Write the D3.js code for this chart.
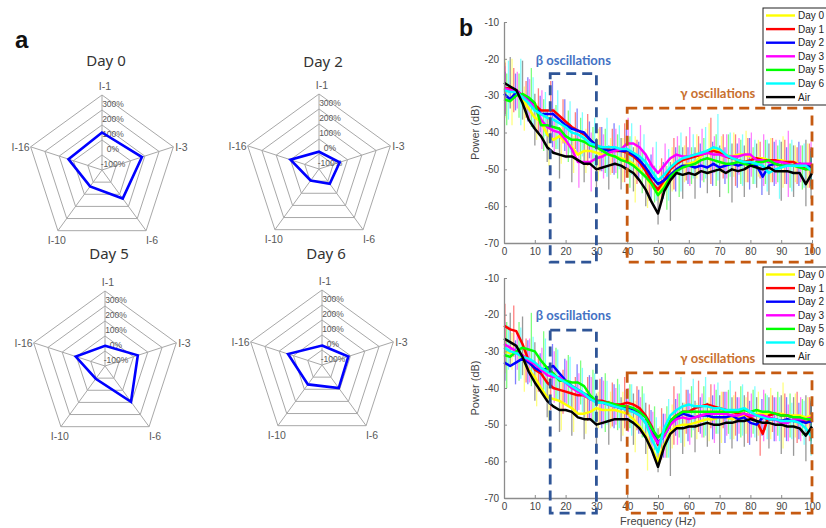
<!DOCTYPE html>
<html><head><meta charset="utf-8">
<script src="https://cdn.jsdelivr.net/npm/d3@7"></script>
<style>body{margin:0;background:#fff}svg{display:block}</style>
</head><body>
<svg id="c" width="826" height="528"></svg>
<script>
// ---------- Panel a: radar data ----------
const radarAxes = ["I-1","I-3","I-6","I-10","I-16"];
const radarTicks = [-100, 0, 100, 200, 300];
const radarTickLabels = ["-100%","0%","100%","200%","300%"];
const radarDays = ["Day 0","Day 2","Day 5","Day 6"];
const day0 = [50, 80, 35, -65, 35];
const day2 = [-85, -55, -78, -105, 0];
const day5 = [-65, 30, 95, -95, 5];
const day6 = [-70, -15, -10, -40, 38];

// ---------- Panel b: spectra data (2 Hz grid) ----------
const freqs = [0,2,4,6,8,10,12,14,16,18,20,22,24,26,28,30,32,34,36,38,40,42,44,46,48,50,52,54,56,58,60,62,64,66,68,70,72,74,76,78,80,82,84,86,88,90,92,94,96,98,100];
const errFreqs = [0,4,8,12,16,20,24,28,32,36,40,44,48,52,56,60,64,68,72,76,80,84,88,92,96,100];
const seriesNames = ["Day 0","Day 1","Day 2","Day 3","Day 5","Day 6","Air"];
const freqTicks = [0,10,20,30,40,50,60,70,80,90,100];
const powerTicks = [-10,-20,-30,-40,-50,-60,-70];

const topDay0 = [-28,-28.5,-29,-31,-33.5,-36,-37,-40.5,-42,-41,
  -42.5,-44,-46,-45,-45,-45.5,-46,-46,-46.5,-47,
  -47.5,-48.5,-50,-52,-54.5,-56.5,-54,-51.5,-50,-49,
  -48.5,-48,-46.5,-45,-44.5,-45,-46,-46.5,-46,-46,
  -46.5,-47,-47,-47.5,-47.5,-47.5,-48,-48,-48.5,-49,-49];
const topDay1 = [-28,-28,-28.5,-30,-31,-32.5,-34,-34,-34,-35.5,
  -37,-38.5,-39.5,-40.5,-42,-43.5,-44.5,-44.5,-45,-45,
  -45.5,-46.5,-48,-50.5,-53.5,-55.5,-53,-50,-48.5,-47.5,
  -47,-46.5,-46,-45.5,-45,-45.5,-46.5,-47,-47.5,-48,
  -47.5,-47,-47.5,-47.5,-47.5,-48,-48,-48,-49,-50,-49];
const topDay2 = [-29.5,-31,-29,-30,-31,-33,-35,-35,-35,-36.5,
  -38,-39,-39.5,-40,-42,-43.5,-44.5,-45,-44.5,-45,
  -45,-46,-47.5,-49.5,-52,-54,-53,-51.5,-50,-49,
  -49,-49.5,-49,-49.5,-48.5,-49.5,-49,-48.5,-49,-48.5,
  -48.5,-49,-52,-49,-48.5,-49,-49,-49,-48.5,-49,-49.5];
const topDay3 = [-28,-28.5,-28.5,-30,-31.5,-33,-36.5,-38.5,-39.5,-40,
  -42,-44.5,-48,-48,-48,-47,-46.5,-45.5,-45,-44.5,
  -43,-43,-44,-46,-49,-51,-49,-47,-46,-46.5,
  -46.5,-46,-46,-45.5,-46,-46,-46.5,-46.5,-46.5,-46,
  -46,-47.5,-47.5,-48,-48,-48,-48.5,-49,-48.5,-48.5,-48.5];
const topDay5 = [-31,-31.5,-30,-29.5,-30.5,-32,-38,-38,-38.5,-39,
  -41,-42,-42,-42.5,-43.5,-44,-45,-46,-46.5,-47.5,
  -48,-49,-50.5,-52,-54,-57,-55,-52,-50.5,-49.5,
  -49,-48.5,-47.5,-47,-47.5,-48,-48.5,-48.5,-48,-48.5,
  -49,-48,-48,-47.5,-48.5,-49,-49,-49,-49.5,-50,-50];
const topDay6 = [-28.5,-29,-29,-30.5,-32,-34,-35,-36,-36.5,-37.5,
  -38.5,-40,-40.5,-41.5,-43,-43.5,-44,-44,-44,-44.5,
  -44.5,-45.5,-46.5,-48,-50.5,-53,-51.5,-49.5,-48,-47,
  -46.5,-46,-45.5,-45,-44,-44.5,-46,-47,-47.5,-48,
  -48,-48.5,-49,-51,-50,-49.5,-49,-49,-49,-49,-50.5];
const topAir = [-26.5,-27.5,-28.5,-32,-36.5,-39,-41,-44,-45.5,-46,
  -46.5,-46.5,-47.5,-48.5,-48.5,-50,-49.5,-49,-48.5,-49,
  -50,-51,-53,-55.5,-59,-62,-56,-53,-51,-51.5,
  -51,-51.5,-50.5,-51,-50.5,-50,-51,-50,-50.5,-50,
  -49,-49.5,-50,-49.5,-50.5,-50.5,-50.5,-51,-51,-54,-51];

const botDay0 = [-30,-30.5,-30,-32,-35,-37,-40,-42.5,-43,-43.5,
  -44.5,-45.5,-47,-47,-46.5,-45.5,-46,-46,-46,-46.5,
  -47,-48.5,-50.5,-53,-56.5,-60,-55.5,-52,-50.5,-50,
  -50,-49.5,-49,-48.5,-48.5,-48,-48,-48.5,-48,-47.5,
  -47.5,-47,-47,-47,-47,-47,-47.5,-47.5,-47.5,-48,-47.5];
const botDay1 = [-23,-24,-24.5,-28,-32.5,-35,-36,-38.5,-40,-40.5,
  -41,-41.5,-42,-42,-43,-43.5,-43.5,-44,-44.5,-44.5,
  -44,-44.5,-45.5,-47.5,-50.5,-55.5,-52.5,-49,-47.5,-46.5,
  -46.5,-45.5,-45,-44.5,-45,-45.5,-46,-46.5,-47,-47,
  -48,-49,-52.5,-47.5,-47,-47.5,-47.5,-48,-48,-49.5,-48.5];
const botDay2 = [-33,-34,-33,-32,-33,-34.5,-35.5,-34.5,-34,-36,
  -38,-39.5,-40.5,-41.5,-42.5,-43.5,-44,-44.5,-45,-45.5,
  -45.5,-46,-46.5,-48,-51,-55,-53,-50,-48,-47,
  -47.5,-48,-47.5,-47.5,-48,-48,-48,-47.5,-48.5,-48,
  -49.5,-50,-48,-48.5,-48.5,-49,-48.5,-49,-49,-49.5,-49];
const botDay3 = [-28,-29,-30,-31,-32.5,-33.5,-35,-36.5,-37,-37,
  -38.5,-40,-41,-42,-43,-43.5,-44,-44.5,-45,-45.5,
  -46,-46.5,-47.5,-49.5,-52.5,-55,-53,-50,-48.5,-48,
  -48.5,-48,-47.5,-47,-47,-47,-47,-47.5,-47.5,-47,
  -47.5,-47.5,-47.5,-48,-48.5,-49.5,-49.5,-48.5,-48.5,-48.5,-48];
const botDay5 = [-31,-31.5,-30,-29,-29.5,-30,-32.5,-34.5,-36,-38,
  -38,-38.5,-38.5,-39.5,-42,-43.5,-44,-44,-44.5,-45,
  -45,-45.5,-46.5,-48,-51,-53.5,-52,-49,-47.5,-46.5,
  -46.5,-46.5,-46.5,-46.5,-46.5,-46.5,-46.5,-46.5,-46.5,-46,
  -46.5,-46,-46.5,-46.5,-47,-47.5,-47.5,-48,-48,-48.5,-48.5];
const botDay6 = [-29,-30,-30.5,-31.5,-32,-33,-34.5,-35.5,-36.5,-37.5,
  -38.5,-39.5,-40.5,-41.5,-43,-44,-44,-44.5,-45,-45.5,
  -46,-46.5,-47.5,-49.5,-54,-57.5,-51,-47.5,-46,-45,
  -44.5,-45,-45,-45,-45.5,-45.5,-46,-46,-46,-45.5,
  -46.5,-47.5,-48,-48.5,-48.5,-49,-49,-49,-49.5,-51,-53.5];
const botAir = [-26.5,-27.5,-28.5,-31.5,-35.5,-38.5,-41,-43.5,-45,-46,
  -46,-46.5,-48,-48.5,-48.5,-50,-49.5,-49,-48.5,-48.5,
  -48.5,-49.5,-51,-53.5,-57,-61.5,-56,-52.5,-51,-51,
  -50.5,-50.5,-50,-49.5,-50,-50,-49.5,-49.5,-49,-49,
  -48.5,-49,-49.5,-49.5,-50,-50,-50.5,-50.5,-51,-53,-50.5];

// error-bar half widths (dB) at errFreqs
const topErrDay0 = [8,9,6,5,7,6,5,6,7,5,6,9,6,5,6,5,6,7,5,6,7,5,6,7,5,6];
const topErrDay1 = [7,6,5,6,8,6,5,7,6,6,8,6,5,6,7,6,5,9,6,7,6,5,6,6,5,6];
const topErrDay2 = [6,5,6,5,9,7,6,5,6,7,6,5,6,5,6,5,6,6,5,6,7,5,6,5,6,5];
const topErrDay3 = [6,5,6,8,6,5,7,8,6,6,7,6,5,6,5,8,7,5,6,5,6,7,6,9,5,6];
const topErrDay5 = [7,6,8,7,6,7,6,5,6,6,7,6,5,6,7,5,6,7,8,6,5,6,5,6,6,5];
const topErrDay6 = [8,9,7,6,8,7,6,7,8,6,7,6,8,7,8,6,7,9,6,7,6,7,8,7,6,5];
const topErrAir = [7,8,7,7,7,7,6,7,6,7,6,7,6,8,7,7,6,7,8,7,6,7,8,7,9,7];
const botErrDay0 = [6,5,6,5,6,7,5,6,5,5,6,7,6,5,6,6,5,6,7,6,5,6,7,9,6,5];
const botErrDay1 = [6,7,6,5,6,6,5,6,6,6,7,6,6,7,8,6,7,6,5,6,7,6,5,6,7,6];
const botErrDay2 = [5,6,6,5,6,6,7,6,7,6,5,6,5,6,5,7,5,6,7,6,6,5,6,6,5,5];
const botErrDay3 = [6,5,6,6,7,6,5,6,6,5,6,5,6,6,7,7,6,8,6,5,6,7,6,5,6,5];
const botErrDay5 = [9,8,10,8,7,7,6,7,8,7,6,7,6,7,6,7,7,6,6,7,6,5,6,6,5,6];
const botErrDay6 = [6,7,6,8,7,7,6,7,6,6,7,6,6,8,9,7,8,7,8,7,7,6,6,5,6,5];
const botErrAir = [7,8,8,7,7,7,6,7,6,6,7,7,6,8,7,7,6,8,7,7,6,7,8,8,9,7];

const seriesColors = ["#ffff00","#ff0000","#0000ff","#ff00ff","#00ff00","#00ffff","#000000"];

// ---------- drawing ----------
const svg = d3.select("#c");

// panel letters
svg.append("text").attr("x",15).attr("y",48).text("a")
  .style("font-family","Liberation Sans, Arial, sans-serif").style("font-size","24px").style("font-weight","bold").attr("fill","#111");
svg.append("text").attr("x",459).attr("y",36).text("b")
  .style("font-family","Liberation Sans, Arial, sans-serif").style("font-size","23px").style("font-weight","bold").attr("fill","#111");

// radar charts
const radarData = [day0, day2, day5, day6];
const radarLayout = [
  {cx:102, cy:170, ty:66},
  {cx:319, cy:169, ty:67},
  {cx:105, cy:366, ty:259},
  {cx:322, cy:365, ty:259}
];
const R = 75;
const rScale = d3.scaleLinear().domain([-200, 300]).range([0, R]);
const ang = i => i * 2 * Math.PI / radarAxes.length;
function pt(cx, cy, i, r){ return [cx + r*Math.sin(ang(i)), cy - r*Math.cos(ang(i))]; }

radarData.forEach((vals, k) => {
  const {cx, cy, ty} = radarLayout[k];
  const g = svg.append("g");
  const gridLine = d3.line().curve(d3.curveLinearClosed);
  radarTicks.forEach(t => {
    g.append("path").attr("d", gridLine(radarAxes.map((a,i)=>pt(cx,cy,i,rScale(t)))))
      .attr("fill","none").attr("stroke","#a8a8a8").attr("stroke-width",1);
  });
  radarAxes.forEach((a,i) => {
    const p = pt(cx,cy,i,R);
    g.append("line").attr("x1",cx).attr("y1",cy).attr("x2",p[0]).attr("y2",p[1])
      .attr("stroke","#a8a8a8").attr("stroke-width",1);
  });
  radarTicks.forEach((t,j) => {
    g.append("text").attr("x", cx+11).attr("y", cy - rScale(t) + 9).attr("dy","0.35em")
      .attr("text-anchor","middle").text(radarTickLabels[j])
      .style("font-family","Liberation Sans, Arial, sans-serif").style("font-size","8.5px").attr("fill","#595959");
  });
  const lab = [
    {dx:3, dy:-5, anchor:"middle"},
    {dx:2, dy:4, anchor:"start"},
    {dx:6, dy:13, anchor:"middle"},
    {dx:-1, dy:13, anchor:"middle"},
    {dx:-1, dy:4, anchor:"end"}
  ];
  radarAxes.forEach((a,i) => {
    const p = pt(cx,cy,i,R);
    g.append("text").attr("x",p[0]+lab[i].dx).attr("y",p[1]+lab[i].dy)
      .attr("text-anchor",lab[i].anchor).text(a)
      .style("font-family","Liberation Sans, Arial, sans-serif").style("font-size","10.5px").attr("fill","#595959");
  });
  g.append("path").attr("d", gridLine(vals.map((v,i)=>pt(cx,cy,i,rScale(v)))))
    .attr("fill","none").attr("stroke","#0000ff").attr("stroke-width",2.6).attr("stroke-linejoin","miter");
  g.append("text").attr("x", cx+4).attr("y", ty).attr("text-anchor","middle").text(radarDays[k])
    .style("font-family","Noto Sans, sans-serif").style("font-size","15px").attr("fill","#333");
});

// spectra panels
const x = d3.scaleLinear().domain([0,100]).range([504,812]);
const panels = [
  {y: d3.scaleLinear().domain([-70,-10]).range([243,22]),
   series:[topDay0,topDay1,topDay2,topDay3,topDay5,topDay6,topAir],
   errs:[topErrDay0,topErrDay1,topErrDay2,topErrDay3,topErrDay5,topErrDay6,topErrAir],
   beta:{f0:15,f1:30,top:-24,bottom:-75.2}, gamma:{f0:40,f1:100,top:-33.4,bottom:-75.2},
   betaLabelY:-21.7, gammaLabelY:-30.5, legendTop:8, xlabel:false},
  {y: d3.scaleLinear().domain([-70,-10]).range([498,278]),
   series:[botDay0,botDay1,botDay2,botDay3,botDay5,botDay6,botAir],
   errs:[botErrDay0,botErrDay1,botErrDay2,botErrDay3,botErrDay5,botErrDay6,botErrAir],
   beta:{f0:15,f1:30,top:-24.2,bottom:-74.1}, gamma:{f0:40,f1:100,top:-35.9,bottom:-74.1},
   betaLabelY:-21.5, gammaLabelY:-33.1, legendTop:267, xlabel:true}
];

panels.forEach(P => {
  const y = P.y;
  const g = svg.append("g");
  P.series.forEach((vals, s) => {
    const off = s*0.57 - 1.4;
    errFreqs.forEach((f, j) => {
      const idx = freqs.indexOf(f);
      const v = vals[idx];
      const e = P.errs[s][j];
      const fx = Math.max(0.3, Math.min(99.7, f + off));
      g.append("line").attr("x1",x(fx)).attr("x2",x(fx))
        .attr("y1",y(v+e)).attr("y2",y(v-e))
        .attr("stroke", s===6 ? "#333" : seriesColors[s])
        .attr("stroke-opacity", 0.5).attr("stroke-width",1.3);
    });
  });
  const line = d3.line().x((d,i)=>x(freqs[i])).y(d=>y(d));
  P.series.forEach((vals, s) => {
    g.append("path").attr("d", line(vals)).attr("fill","none")
      .attr("stroke", seriesColors[s]).attr("stroke-width",2.5).attr("stroke-linejoin","round");
  });
  const yAxis = d3.axisLeft(y).tickValues(powerTicks).tickSize(-3).tickSizeOuter(0).tickPadding(5).tickFormat(d=>String(d));
  const xAxis = d3.axisBottom(x).tickValues(freqTicks).tickSize(-3).tickSizeOuter(0).tickPadding(5).tickFormat(d=>String(d));
  const ya = g.append("g").attr("transform","translate(504,0)").call(yAxis);
  const xa = g.append("g").attr("transform",`translate(0,${y(-70)})`).call(xAxis);
  [ya, xa].forEach(a => {
    a.select(".domain").attr("stroke","#8c8c8c").attr("stroke-width",1.3);
    a.selectAll(".tick line").attr("stroke","#8c8c8c");
    a.selectAll("text").attr("fill","#444").style("font-family","Liberation Sans, Arial, sans-serif").style("font-size","10px");
  });
  const ymid = (y(-10)+y(-70))/2;
  g.append("text").attr("transform",`translate(479,${ymid}) rotate(-90)`).attr("text-anchor","middle")
    .text("Power (dB)").style("font-family","Liberation Sans, Arial, sans-serif").style("font-size","11px").attr("fill","#444");
  if (P.xlabel) {
    g.append("text").attr("x",658).attr("y",y(-70)+27).attr("text-anchor","middle")
      .text("Frequency (Hz)").style("font-family","Liberation Sans, Arial, sans-serif").style("font-size","11px").attr("fill","#444");
  }
  const drawBox = (b, color) => {
    g.append("rect").attr("x",x(b.f0)).attr("y",y(b.top))
      .attr("width",x(b.f1)-x(b.f0)).attr("height",y(b.bottom)-y(b.top))
      .attr("fill","none").attr("stroke",color).attr("stroke-width",2.8).attr("stroke-dasharray","10,6");
  };
  drawBox(P.beta, "#2F5597");
  drawBox(P.gamma, "#C55A11");
  g.append("text").attr("x",x(22.5)).attr("y",y(P.betaLabelY)).attr("text-anchor","middle")
    .text("β oscillations").style("font-family","Lato, sans-serif").style("font-weight","bold").style("font-size","13px").attr("fill","#4472C4");
  g.append("text").attr("x",x(69.4)).attr("y",y(P.gammaLabelY)).attr("text-anchor","middle")
    .text("γ oscillations").style("font-family","Lato, sans-serif").style("font-weight","bold").style("font-size","13px").attr("fill","#C8702E");
  const lg = g.append("g").attr("transform",`translate(763,${P.legendTop})`);
  lg.append("rect").attr("x",0).attr("y",0).attr("width",70).attr("height",97)
    .attr("fill","#fff").attr("stroke","#222").attr("stroke-width",1);
  seriesNames.forEach((n,i) => {
    const yy = 7.5 + i*13.6;
    lg.append("line").attr("x1",3).attr("x2",32).attr("y1",yy).attr("y2",yy)
      .attr("stroke",seriesColors[i]).attr("stroke-width",2.4);
    lg.append("text").attr("x",35).attr("y",yy+3.5).text(n)
      .style("font-family","Liberation Sans, Arial, sans-serif").style("font-size","10px").attr("fill","#222");
  });
});
</script>
</body></html>
